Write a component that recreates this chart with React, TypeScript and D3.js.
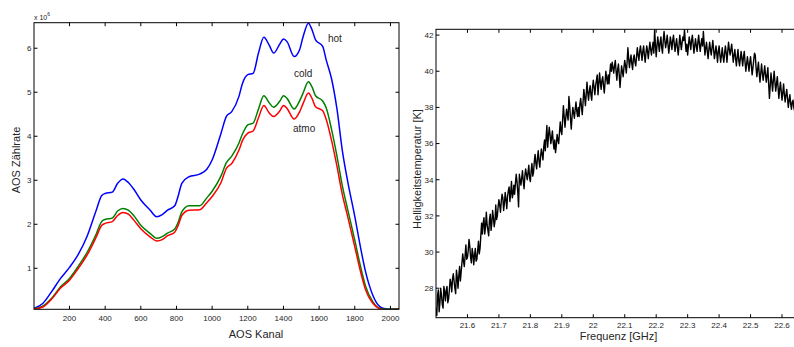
import * as d3 from "d3";

// left panel: AOS counts (x 10^6) per channel
const channels = [1, 50, 100, 150, 200, 250, 300, 350, 380, 400, 440, 470, 500, 530, 560, 600, 650, 690, 720, 750, 790, 810, 830, 870, 930, 970, 1000, 1050, 1080, 1110, 1150, 1170, 1200, 1230, 1260, 1290, 1320, 1345, 1380, 1400, 1420, 1460, 1490, 1510, 1540, 1560, 1580, 1620, 1640, 1670, 1700, 1730, 1760, 1800, 1830, 1860, 1900, 1940, 1970, 2000, 2048];
const hot = [0.09, 0.20, 0.47, 0.77, 1.02, 1.32, 1.74, 2.32, 2.65, 2.70, 2.73, 2.93, 3.03, 2.95, 2.80, 2.55, 2.33, 2.17, 2.22, 2.32, 2.42, 2.65, 2.93, 3.08, 3.14, 3.25, 3.46, 4.07, 4.45, 4.56, 4.90, 5.20, 5.40, 5.43, 5.89, 6.25, 6.07, 5.89, 6.10, 6.21, 6.15, 5.81, 5.96, 6.26, 6.57, 6.42, 6.19, 6.04, 5.73, 5.30, 4.62, 3.68, 2.98, 2.18, 1.52, 0.93, 0.40, 0.13, 0.08, 0.07, 0.08];
const cold = [0.08, 0.14, 0.32, 0.58, 0.77, 1.05, 1.37, 1.78, 2.06, 2.11, 2.14, 2.30, 2.36, 2.32, 2.20, 1.98, 1.80, 1.68, 1.72, 1.80, 1.89, 2.05, 2.28, 2.42, 2.42, 2.60, 2.75, 3.10, 3.40, 3.55, 3.84, 4.05, 4.26, 4.30, 4.62, 4.92, 4.76, 4.66, 4.80, 4.92, 4.86, 4.62, 4.80, 4.98, 5.24, 5.12, 4.92, 4.80, 4.64, 4.15, 3.55, 2.88, 2.34, 1.64, 1.08, 0.60, 0.25, 0.09, 0.07, 0.07, 0.08];
const atmo = [0.07, 0.12, 0.30, 0.55, 0.73, 1.00, 1.31, 1.71, 1.97, 2.02, 2.06, 2.20, 2.27, 2.23, 2.10, 1.90, 1.72, 1.62, 1.65, 1.74, 1.82, 1.98, 2.20, 2.32, 2.33, 2.49, 2.63, 2.95, 3.27, 3.38, 3.68, 3.90, 4.07, 4.12, 4.42, 4.70, 4.53, 4.45, 4.58, 4.70, 4.63, 4.39, 4.55, 4.74, 4.98, 4.86, 4.67, 4.58, 4.38, 3.90, 3.32, 2.68, 2.18, 1.49, 0.96, 0.52, 0.21, 0.08, 0.06, 0.06, 0.07];
const chanTicks = [200, 400, 600, 800, 1000, 1200, 1400, 1600, 1800, 2000];
const countTicks = [1, 2, 3, 4, 5, 6];

// right panel: brightness temperature, one value every 2.5 MHz from 21.5 GHz
const freqStart = 21.5;
const freqStep = 0.0025;
const brightness = [
  26.9, 26.5, 27.6, 27.9, 26.7, 27.2, 28.0, 27.6, 27.1, 26.9, 28.1, 27.8, 27.3, 27.9, 28.1, 27.2, 27.4, 27.9, 28.5, 28.3,
  27.8, 28.5, 28.8, 28.4, 28.0, 27.7, 29.0, 28.6, 28.0, 28.7, 29.2, 28.4, 28.9, 29.4, 29.9, 29.5, 29.2, 29.8, 30.4, 29.6,
  29.7, 30.1, 30.7, 30.3, 29.7, 29.4, 30.2, 29.9, 29.3, 29.8, 30.2, 29.5, 29.6, 30.1, 30.6, 29.9, 30.2, 30.9, 31.6, 31.0,
  31.6, 31.9, 31.0, 31.4, 32.2, 31.5, 31.2, 30.9, 31.8, 32.1, 31.2, 31.6, 32.3, 31.9, 31.4, 31.7, 32.6, 31.8, 32.0, 32.5,
  32.9, 32.6, 32.2, 32.8, 33.2, 33.0, 32.3, 32.7, 33.3, 32.9, 32.4, 33.1, 33.4, 33.6, 32.8, 33.3, 33.9, 33.0, 33.2, 33.7,
  33.2, 33.8, 34.3, 33.9, 33.3, 32.5, 34.3, 34.0, 33.7, 34.1, 34.5, 33.9, 33.5, 34.2, 34.6, 34.3, 34.0, 34.4, 34.8, 34.1,
  33.9, 34.5, 34.9, 34.2, 34.4, 35.0, 35.4, 34.9, 34.6, 35.2, 35.6, 35.0, 34.7, 35.3, 35.7, 35.4, 35.1, 35.8, 36.2, 35.6,
  36.3, 37.0, 35.8, 36.4, 36.9, 36.5, 36.0, 36.3, 36.7, 36.1, 35.7, 36.2, 35.5, 35.9, 36.5, 36.2, 36.0, 36.6, 37.2, 36.7,
  36.5, 37.3, 38.1, 37.5, 36.9, 37.4, 37.9, 37.6, 37.3, 38.6, 38.1, 37.4, 36.8, 37.5, 38.0, 37.7, 37.4, 37.9, 38.3, 37.8,
  37.5, 38.0, 37.5, 38.2, 38.5, 38.0, 37.6, 38.3, 39.0, 38.6, 38.1, 38.7, 39.4, 38.8, 38.4, 38.9, 39.2, 38.7, 38.4, 39.1,
  39.5, 39.1, 38.7, 39.2, 39.5, 39.8, 38.7, 39.3, 39.9, 39.4, 39.0, 39.5, 39.7, 39.2, 38.8, 39.4, 40.0, 39.6, 39.3, 39.8,
  39.3, 39.9, 40.4, 40.0, 40.5, 40.2, 39.9, 40.3, 40.6, 40.0, 39.5, 40.1, 40.4, 39.8, 39.1, 39.7, 40.3, 40.0, 39.7, 40.2,
  40.6, 40.3, 39.9, 40.5, 41.3, 40.7, 40.2, 40.6, 40.9, 40.4, 40.1, 40.7, 40.9, 40.5, 40.3, 40.8, 41.3, 40.9, 40.6, 41.1,
  41.4, 41.0, 40.6, 41.1, 41.4, 40.9, 40.5, 41.0, 41.4, 41.1, 40.7, 41.2, 41.6, 41.2, 40.9, 41.3, 41.6, 41.0, 42.3, 41.5,
  40.8, 41.4, 41.9, 41.5, 41.1, 41.6, 41.9, 41.3, 41.0, 41.7, 42.2, 41.7, 41.3, 41.6, 42.0, 41.5, 41.0, 41.4, 41.9, 41.6,
  41.2, 41.7, 42.0, 41.5, 41.1, 41.5, 41.8, 41.3, 40.9, 41.4, 42.0, 41.6, 41.2, 41.6, 41.9, 41.7, 42.3, 41.6, 41.1, 41.5,
  40.9, 41.4, 41.9, 41.6, 41.2, 41.7, 42.0, 41.5, 41.0, 41.4, 41.8, 41.4, 41.1, 41.6, 42.0, 41.5, 41.1, 41.5, 41.8, 41.4,
  42.2, 41.5, 40.9, 41.3, 41.6, 41.1, 40.7, 41.2, 41.6, 41.2, 40.9, 41.3, 41.7, 41.2, 40.7, 41.0, 41.4, 41.0, 40.5, 41.1,
  41.4, 40.9, 40.5, 40.9, 41.3, 40.8, 40.5, 41.0, 41.4, 41.0, 40.5, 41.1, 41.6, 41.2, 40.9, 41.2, 41.5, 41.0, 40.5, 40.9,
  41.2, 40.7, 40.3, 40.8, 41.2, 40.6, 40.3, 40.7, 41.1, 40.7, 40.3, 40.8, 41.1, 40.5, 40.0, 40.4, 40.8, 40.4, 40.0, 40.5,
  40.8, 40.3, 39.8, 40.2, 40.6, 41.0, 40.9, 40.2, 39.7, 40.1, 40.5, 39.9, 39.4, 39.9, 40.4, 39.9, 39.5, 39.9, 40.3, 39.8,
  39.4, 39.8, 40.2, 39.3, 38.5, 39.2, 39.9, 39.4, 38.9, 39.5, 40.0, 39.4, 38.9, 39.3, 39.7, 39.1, 38.5, 39.0, 39.4, 38.9,
  38.4, 38.8, 39.3, 38.7, 38.3, 38.7, 39.0, 38.5, 38.0, 38.4, 38.7, 38.2, 37.9, 38.3, 38.4, 38.0, 37.8,
];
const freqTicks = [21.6, 21.7, 21.8, 21.9, 22.0, 22.1, 22.2, 22.3, 22.4, 22.5, 22.6];
const tempTicks = [28, 30, 32, 34, 36, 38, 40, 42];

const W = 794;
const H = 347;
const font = "'Liberation Sans', Arial, Helvetica, sans-serif";
const txt = "#262626";
const tick = 3.5;

export default function App() {
  // left axes box
  const L = { left: 34, right: 399, top: 22.7, bottom: 309.3 };
  const x1 = d3.scaleLinear([1, 2048], [L.left, L.right]);
  const y1 = d3.scaleLinear([0.068, 6.58], [L.bottom, L.top]);
  const spec = (vals: number[]) =>
    d3.line<number>((_, i) => x1(channels[i]), (d) => y1(d)).curve(d3.curveMonotoneX)(vals) || "";

  // right axes box (right edge runs past the picture)
  const R = { left: 436, right: 794.6, top: 29.3, bottom: 317.7 };
  const x2 = d3.scaleLinear([21.5, 22.64], [R.left, R.right]);
  const y2 = d3.scaleLinear([26.37, 42.32], [R.bottom, R.top]);
  const tb = d3.line<number>((_, i) => x2(freqStart + i * freqStep), (d) => y2(d))(brightness) || "";

  return (
    <svg width={W} height={H} style={{ position: "absolute", left: 0, top: 0, background: "#fff" }} fontFamily={font}>
      <defs>
        <clipPath id="clipL">
          <rect x={L.left} y={L.top} width={L.right - L.left} height={L.bottom - L.top} />
        </clipPath>
        <clipPath id="clipR">
          <rect x={R.left} y={R.top} width={R.right - R.left} height={R.bottom - R.top} />
        </clipPath>
      </defs>

      {/* ---- left panel ---- */}
      <g clipPath="url(#clipL)" fill="none" strokeWidth={1.5} strokeLinejoin="round">
        <path d={spec(hot)} stroke="#0000ff" />
        <path d={spec(cold)} stroke="#008000" />
        <path d={spec(atmo)} stroke="#ff0000" />
      </g>
      <rect x={L.left} y={L.top} width={L.right - L.left} height={L.bottom - L.top} fill="none" stroke="#000" strokeWidth={1} />
      {chanTicks.map((t) => (
        <g key={t}>
          <line x1={x1(t)} x2={x1(t)} y1={L.bottom} y2={L.bottom - tick} stroke="#000" />
          <line x1={x1(t)} x2={x1(t)} y1={L.top} y2={L.top + tick} stroke="#000" />
          <text x={x1(t)} y={L.bottom + 11.3} textAnchor="middle" fontSize={8} fill={txt}>{t}</text>
        </g>
      ))}
      {countTicks.map((t) => (
        <g key={t}>
          <line x1={L.left} x2={L.left + tick} y1={y1(t)} y2={y1(t)} stroke="#000" />
          <line x1={L.right} x2={L.right - tick} y1={y1(t)} y2={y1(t)} stroke="#000" />
          <text x={L.left - 2.5} y={y1(t) + 2.9} textAnchor="end" fontSize={8} fill={txt}>{t}</text>
        </g>
      ))}
      <text x={L.left} y={19.5} fontSize={7} fill={txt}>
        x 10<tspan dy={-3.5} fontSize={5}>6</tspan>
      </text>
      <text x={256} y={338} textAnchor="middle" fontSize={11} fill={txt}>AOS Kanal</text>
      <text transform="translate(19.5,160) rotate(-90)" textAnchor="middle" fontSize={11} fill={txt}>AOS Zählrate</text>
      <text x={328} y={41.7} fontSize={10} fill={txt}>hot</text>
      <text x={294} y={76.7} fontSize={10} fill={txt}>cold</text>
      <text x={293} y={132.3} fontSize={10} fill={txt}>atmo</text>

      {/* ---- right panel ---- */}
      <g clipPath="url(#clipR)">
        <path d={tb} fill="none" stroke="#000" strokeWidth={1.4} strokeLinejoin="round" />
      </g>
      <rect x={R.left} y={R.top} width={R.right - R.left} height={R.bottom - R.top} fill="none" stroke="#000" strokeWidth={1} />
      {freqTicks.map((t) => (
        <g key={t}>
          <line x1={x2(t)} x2={x2(t)} y1={R.bottom} y2={R.bottom - tick} stroke="#000" />
          <line x1={x2(t)} x2={x2(t)} y1={R.top} y2={R.top + tick} stroke="#000" />
          <text x={x2(t)} y={R.bottom + 10.3} textAnchor="middle" fontSize={8} fill={txt}>{String(+t.toFixed(1))}</text>
        </g>
      ))}
      {tempTicks.map((t) => (
        <g key={t}>
          <line x1={R.left} x2={R.left + tick} y1={y2(t)} y2={y2(t)} stroke="#000" />
          <text x={R.left - 2.5} y={y2(t) + 2.9} textAnchor="end" fontSize={8} fill={txt}>{t}</text>
        </g>
      ))}
      <text x={618.5} y={339.5} textAnchor="middle" fontSize={11} fill={txt}>Frequenz [GHz]</text>
      <text transform="translate(420.5,169) rotate(-90)" textAnchor="middle" fontSize={11} fill={txt}>Helligkeitstemperatur [K]</text>
    </svg>
  );
}
